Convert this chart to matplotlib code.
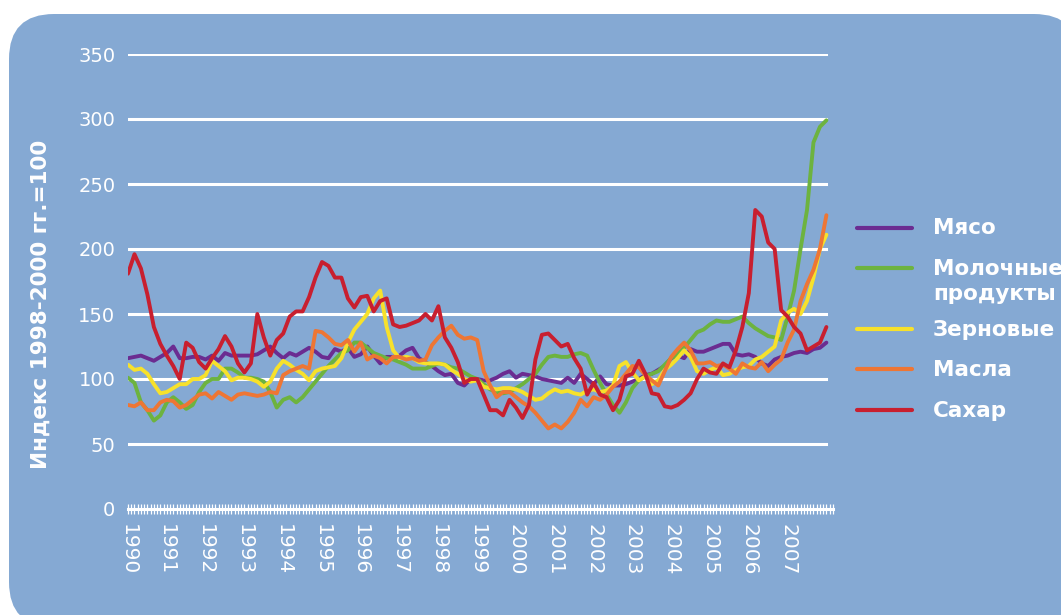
import numpy as np
import matplotlib
matplotlib.use("Agg")
import matplotlib.pyplot as plt
from matplotlib.patches import FancyBboxPatch
from matplotlib.lines import Line2D
from matplotlib.ticker import MultipleLocator, FixedLocator

# ---- data (bi-monthly readings, Jan 1990 .. Jan 2008) ----
years = list(range(1990, 2008))
series_names = ["Мясо", "Молочные\nпродукты", "Зерновые", "Масла", "Сахар"]

meat = [116, 117, 118, 116, 114, 117, 120, 125, 116, 116, 117, 117, 115, 118, 114, 120, 118, 118,
        118, 118, 119, 122, 125, 120, 116, 120, 118, 121, 124, 121, 117, 116, 123, 121, 124, 117,
        119, 125, 118, 112, 117, 117, 118, 122, 124, 116, 113, 110, 106, 103, 104, 97, 95, 100,
        100, 99, 99, 101, 104, 106, 101, 104, 103, 102, 100, 99, 98, 97, 101, 97, 104, 100,
        96, 102, 96, 95, 95, 96, 98, 100, 103, 104, 107, 110, 116, 118, 116, 123, 121, 121,
        123, 125, 127, 127, 119, 118, 119, 117, 112, 110, 115, 117, 118, 120, 121, 120, 123, 124, 128]

dairy = [101, 97, 82, 76, 68, 72, 82, 86, 82, 77, 80, 90, 97, 100, 100, 108, 108, 105,
         101, 101, 100, 98, 90, 78, 84, 86, 82, 86, 92, 98, 104, 110, 115, 120, 122, 128,
         128, 124, 120, 118, 116, 115, 113, 111, 108, 108, 108, 110, 112, 111, 109, 108, 105, 102,
         100, 96, 92, 90, 89, 90, 93, 96, 100, 104, 111, 117, 118, 117, 117, 119, 120, 118,
         107, 97, 88, 80, 74, 82, 93, 99, 102, 104, 106, 111, 116, 119, 124, 130, 136, 138,
         142, 145, 144, 144, 146, 148, 143, 139, 136, 133, 132, 130, 148, 168, 200, 230, 282, 294, 299]

cereals = [111, 107, 108, 104, 96, 89, 90, 93, 96, 96, 100, 100, 103, 114, 110, 106, 99, 101,
           101, 100, 98, 94, 98, 108, 114, 111, 107, 104, 99, 106, 108, 109, 110, 116, 128, 138,
           144, 150, 162, 168, 140, 122, 116, 117, 116, 113, 112, 112, 112, 111, 107, 104, 100, 98,
           99, 94, 93, 92, 93, 93, 92, 90, 87, 84, 85, 89, 92, 90, 91, 89, 88, 91,
           92, 90, 91, 95, 110, 113, 105, 99, 102, 96, 99, 107, 111, 116, 122, 117, 106, 104,
           107, 109, 103, 104, 107, 109, 110, 115, 117, 121, 125, 145, 151, 154, 150, 160, 178, 200, 211]

oils = [80, 79, 82, 76, 76, 82, 84, 83, 78, 80, 84, 88, 89, 85, 90, 87, 84, 88,
        89, 88, 87, 88, 90, 89, 103, 106, 108, 110, 108, 137, 136, 132, 127, 126, 130, 121,
        128, 115, 118, 116, 112, 117, 117, 115, 116, 114, 115, 126, 132, 137, 141, 134, 131, 132,
        130, 106, 95, 86, 90, 90, 86, 82, 79, 74, 68, 62, 65, 62, 67, 74, 84, 79,
        86, 84, 88, 94, 98, 104, 110, 109, 103, 99, 95, 106, 117, 123, 128, 122, 112, 112,
        113, 110, 111, 108, 104, 112, 109, 108, 113, 106, 111, 115, 128, 138, 160, 173, 184, 200, 226]

sugar = [181, 196, 185, 165, 140, 127, 118, 110, 100, 128, 124, 113, 108, 116, 123, 133, 125, 112,
         105, 112, 150, 132, 118, 130, 135, 148, 152, 152, 163, 178, 190, 187, 178, 178, 162, 155,
         163, 164, 152, 160, 162, 142, 140, 141, 143, 145, 150, 145, 156, 132, 124, 113, 97, 100,
         100, 88, 76, 76, 72, 84, 78, 70, 80, 115, 134, 135, 130, 125, 127, 116, 108, 88,
         97, 88, 86, 76, 84, 102, 104, 114, 104, 89, 88, 79, 78, 80, 84, 89, 100, 108,
         105, 104, 112, 109, 122, 140, 166, 230, 225, 205, 200, 153, 148, 140, 135, 122, 125, 128, 140]

colors = ["#6B2C91", "#6DB33F", "#F7E12B", "#EE7634", "#C81F2F"]

# ---- figure ----
W, H = 1061, 615
fig = plt.figure(figsize=(W / 100, H / 100), dpi=100, facecolor="white")

bg = FancyBboxPatch((9, -12), 1070, 613, boxstyle="round,pad=0,rounding_size=45",
                    transform=None, facecolor="#85A9D3", edgecolor="none", zorder=-10)
fig.patches.append(bg)

ax = fig.add_axes([128 / W, (H - 509) / H, (833 - 128) / W, (509 - 54) / H])
ax.set_facecolor("none")

x = 1990 + np.arange(len(meat)) / 6.0
for vals, c in zip([meat, dairy, cereals, oils, sugar], colors):
    ax.plot(x, vals, color=c, lw=2.8, solid_joinstyle="round", solid_capstyle="round", zorder=3)

ax.set_xlim(1990, 2008.17)
ax.set_ylim(0, 350)

# grid
for v in range(50, 351, 50):
    ax.plot([1990, 2008.0], [v, v], color="white", lw=2.2, zorder=1)

for s in ["top", "right", "left"]:
    ax.spines[s].set_visible(False)
ax.spines["bottom"].set_color("white")
ax.spines["bottom"].set_linewidth(2.2)

ax.yaxis.set_major_locator(FixedLocator(range(0, 351, 50)))
ax.tick_params(axis="y", length=0, pad=9, labelsize=14, labelcolor="white")

ax.xaxis.set_major_locator(FixedLocator(years))
ax.set_xticklabels([str(y) for y in years], rotation=270)
ax.xaxis.set_minor_locator(MultipleLocator(1 / 12))
ax.tick_params(axis="x", which="both", direction="inout", length=7, width=0.9,
               color="white", labelcolor="white", labelsize=14.5, pad=7)

ax.set_ylabel("Индекс 1998-2000 гг.=100", color="white", fontsize=15.5, fontweight="bold")
ax.yaxis.set_label_coords((51 - 128) / (833 - 128), (509 - 304) / (509 - 54))

# legend (manual)
leg_y = [228, 268, 329, 369, 410]
for yy, c in zip(leg_y, colors):
    fig.add_artist(Line2D([857 / W, 912 / W], [1 - yy / H, 1 - yy / H], color=c, lw=3,
                          solid_capstyle="round"))
label_pos = [(228, "Мясо"), (269, "Молочные"), (294, "продукты"), (330, "Зерновые"),
             (370, "Масла"), (411, "Сахар")]
for yy, t in label_pos:
    fig.text(933 / W, 1 - yy / H, t, color="white", fontsize=15.5, fontweight="bold",
             ha="left", va="center")

fig.savefig("out.png", dpi=100, facecolor="white")
